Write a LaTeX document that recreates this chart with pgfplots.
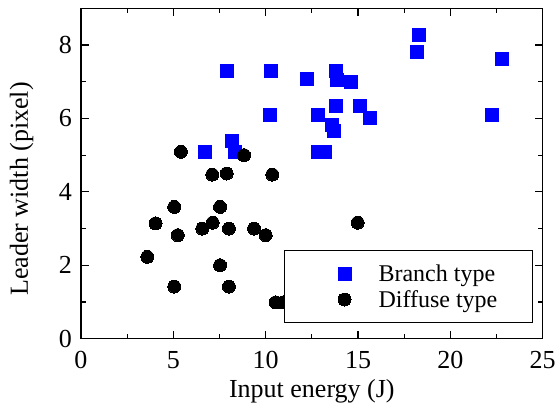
\documentclass[border=0pt]{standalone}
\usepackage{pgfplots}
\pgfplotsset{compat=1.18}
\usepackage{fontspec}
\setmainfont{Liberation Serif}
\newcommand{\tf}{\fontspec{Liberation Serif}\fontsize{26}{30}\selectfont}
\begin{document}
\begin{tikzpicture}
\begin{axis}[
  name=ax,
  width=461.7pt, height=330.4pt, scale only axis,
  xmin=0, xmax=25, ymin=0, ymax=9,
  xtick={0,5,...,25}, ytick={0,2,4,6,8},
  xticklabel={\mbox{\tf\pgfmathprintnumber[assume math mode=true]{\tick}}},
  yticklabel={\mbox{\tf\pgfmathprintnumber[assume math mode=true]{\tick}}},
  minor x tick num=1, minor y tick num=1,
  tick align=inside, major tick length=8pt, minor tick length=5pt,
  axis line style={line width=1.2pt},
  every tick/.style={black, line width=1.1pt},
  tick label style={font=\tf},
  xticklabel style={anchor=base, inner sep=0pt, yshift=-30.3pt},
  yticklabel style={anchor=east, inner sep=0pt, xshift=-9pt},
  xlabel={Input energy (J)},
  ylabel={Leader width (pixel)},
  label style={font=\fontsize{26}{30}\selectfont},
  xlabel style={at={(axis description cs:0.5,0)}, anchor=base, inner sep=0pt, yshift=-58.6pt},
  ylabel style={at={(axis description cs:-0.1148,0.453)}, anchor=base, inner sep=0pt},
  legend style={at={(0.979,0.0466)}, anchor=south east, draw=black, line width=1.2pt,
    inner xsep=0pt, inner ysep=14pt, row sep=7.4pt,
    font=\fontsize{24}{28}\selectfont, nodes={inner sep=0pt}},
  legend cell align=left,
]
\addplot[only marks, mark=square*, color=blue, mark size=6.5pt,
  mark options={fill=blue, draw=blue, line width=0pt},
  legend image code/.code={\path[draw=none,fill=none] (-60pt,-0.1pt) rectangle (34pt,0.1pt);
    \draw[mark repeat=2,mark phase=2] plot coordinates {(-1pt,0pt)(0pt,0pt)(1pt,0pt)};}]
coordinates {
(18.32,8.26) (18.18,7.81) (22.79,7.63) (7.89,7.28) (10.27,7.28) (12.25,7.07)
(13.81,7.28) (13.84,7.06) (14.63,6.99) (10.23,6.09) (12.85,6.09) (13.81,6.33)
(15.11,6.33) (15.65,6.00) (13.57,5.82) (13.71,5.65) (22.27,6.09) (8.19,5.38)
(6.71,5.09) (8.34,5.09) (12.85,5.09) (13.21,5.09)
};
\addlegendentry{Branch type\rule{35pt}{0pt}}
\addplot[only marks, mark=*, color=black, mark size=6.5pt,
  mark options={fill=black, draw=black, line width=0pt},
  legend image code/.code={\path[draw=none,fill=none] (-60pt,-0.1pt) rectangle (34pt,0.1pt);
    \draw[mark repeat=2,mark phase=2] plot coordinates {(-1pt,0pt)(0pt,0pt)(1pt,0pt)};}]
coordinates {
(5.41,5.09) (8.83,5.00) (7.11,4.47) (7.89,4.50) (10.36,4.47) (5.05,3.59)
(7.53,3.59) (4.04,3.14) (7.13,3.16) (6.57,3.00) (8.01,3.00) (9.37,3.00)
(10.00,2.82) (5.24,2.82) (14.98,3.16) (3.59,2.23) (7.53,2.00) (5.05,1.42)
(8.01,1.42) (10.54,0.99) (10.94,0.99)
};
\addlegendentry{Diffuse type\rule{35pt}{0pt}}
\end{axis}
\pgfresetboundingbox
\path (ax.south west) ++(-81pt,-68.3pt) rectangle ++(555pt,407pt);
\end{tikzpicture}
\end{document}
